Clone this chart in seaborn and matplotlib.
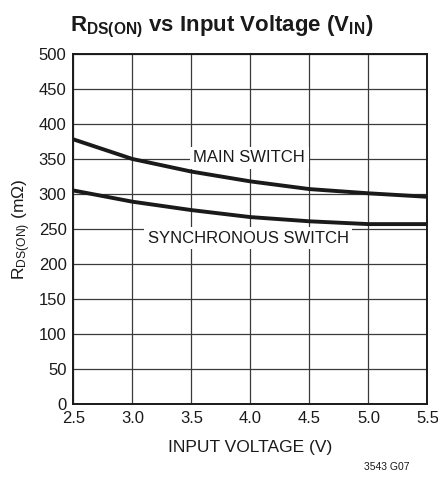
import matplotlib
matplotlib.use("Agg")
import matplotlib.pyplot as plt
import seaborn as sns
import pandas as pd

# values
input_voltage = [2.5, 3.0, 3.5, 4.0, 4.5, 5.0, 5.5]
main_switch = [378, 350, 332, 318, 307, 301, 296]
sync_switch = [305, 289, 277, 267, 261, 257, 257]
series_names = ["MAIN SWITCH", "SYNCHRONOUS SWITCH"]
x_ticks = [2.5, 3.0, 3.5, 4.0, 4.5, 5.0, 5.5]
y_ticks = list(range(0, 501, 50))

df = pd.DataFrame({
    "vin": input_voltage * 2,
    "rds": main_switch + sync_switch,
    "series": [series_names[0]] * len(main_switch) + [series_names[1]] * len(sync_switch),
})

sns.set_style("white")
FONT = ["Liberation Sans", "DejaVu Sans"]
plt.rcParams["font.family"] = FONT
plt.rcParams["mathtext.default"] = "regular"

fig = plt.figure(figsize=(4.38, 4.9), dpi=100)
ax = fig.add_axes([0.1678, 0.1755, 0.8082, 0.7143])

sns.lineplot(data=df, x="vin", y="rds", units="series", estimator=None,
             color="#1a1a1a", linewidth=2.8, ax=ax, legend=False)

ax.set_xlim(2.5, 5.5)
ax.set_ylim(0, 500)
ax.set_xticks(x_ticks)
ax.set_xticklabels([f"{v:.1f}" for v in x_ticks])
ax.set_yticks(y_ticks)
ax.grid(True, color="#3a3a3a", linewidth=0.9)
ax.set_axisbelow(True)
for s in ax.spines.values():
    s.set_color("#1a1a1a")
    s.set_linewidth(1.4)
ax.tick_params(axis="both", labelsize=12, length=0, pad=5, colors="#1a1a1a")

ax.set_xlabel("INPUT VOLTAGE (V)", fontsize=12.5, color="#1a1a1a", labelpad=10)
ax.set_ylabel("$R_{DS(ON)}$ (m\u03a9)", fontsize=12.5, color="#1a1a1a", labelpad=4)
fig.text(0.507, 0.944, "$R_{DS(ON)}$ vs Input Voltage ($V_{IN}$)", fontsize=16,
         fontweight="bold", color="#1a1a1a", ha="center", va="center")

box = dict(facecolor="white", edgecolor="none", pad=2.5)
ax.text(3.99, 352, series_names[0], ha="center", va="center", fontsize=12,
        color="#1a1a1a", bbox=box)
ax.text(3.98, 237, series_names[1], ha="center", va="center", fontsize=12,
        color="#1a1a1a", bbox=box)

fig.text(0.935, 0.047, "3543 G07", ha="right", va="center", fontsize=7.5, color="#1a1a1a")

fig.savefig("out.png", dpi=100, facecolor="white")
